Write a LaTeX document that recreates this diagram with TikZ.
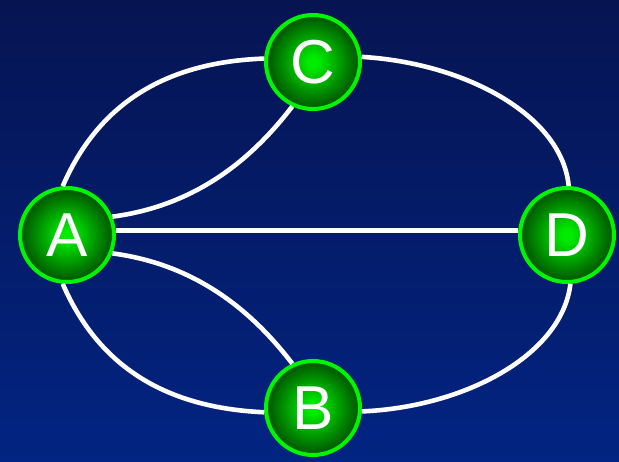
\documentclass[tikz,border=0pt]{standalone}
\usepackage{fontspec}
\setmainfont{Liberation Sans}
\usetikzlibrary{positioning}

\definecolor{bgtop}{RGB}{6,20,82}
\definecolor{bgbot}{RGB}{2,36,130}
\definecolor{ringgreen}{RGB}{0,245,0}
\definecolor{glowin}{RGB}{0,235,0}
\definecolor{glowout}{RGB}{0,95,0}
\pgfdeclareradialshading{glow}{\pgfpoint{0bp}{0bp}}{color(0bp)=(glowin); color(3bp)=(glowin); color(23bp)=(glowout); color(50bp)=(glowout)}

\begin{document}
\begin{tikzpicture}[x=1pt,y=-1pt,on grid,
  vertex/.style={circle,draw=ringgreen,line width=4pt,shade,shading=glow,minimum size=94pt,inner sep=0pt,text=white,font=\fontsize{62}{62}\selectfont},
  link/.style={white,line width=4.6pt}]
  \shade[top color=bgtop,bottom color=bgbot] (0,0) rectangle (619,461);

  \node[vertex] (A) at (67,235) {A};
  \node[vertex] (D) [right=500pt of A] {D};
  \node[vertex] (C) [above right=173pt and 246pt of A] {C};
  \node[vertex] (B) [below right=173pt and 246pt of A] {B};

  % upper side
  \draw[link] (A.95) .. controls (100,100) and (170,62) .. (C.176);
  \draw[link] (A.22) .. controls (200,205) and (255,155) .. (C.245);
  \draw[link] (C.6) .. controls (465,63) and (562,115) .. (D.88);

  \draw[link] (A.5) -- (D.175);

  % lower side
  \draw[link] (A.338) .. controls (200,265) and (255,315) .. (B.115);
  \draw[link] (A.265) .. controls (100,370) and (170,408) .. (B.185);
  \draw[link] (B.356) .. controls (465,407) and (562,355) .. (D.274);
\end{tikzpicture}
\end{document}
